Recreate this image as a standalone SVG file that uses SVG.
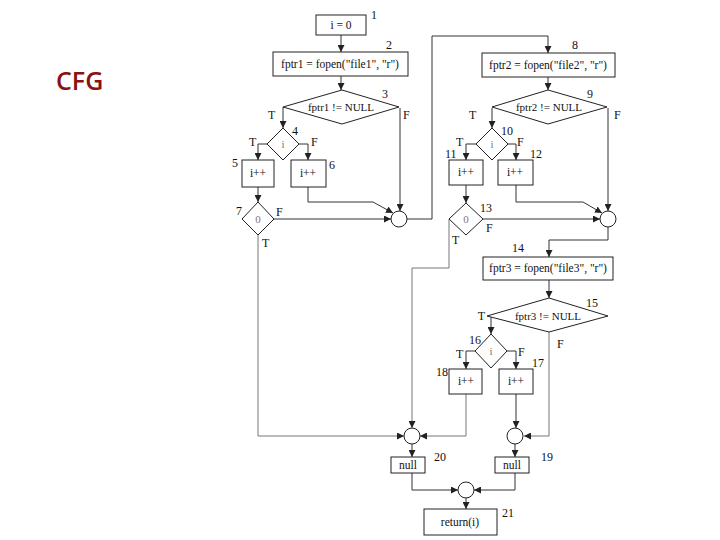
<svg xmlns="http://www.w3.org/2000/svg" width="720" height="540" viewBox="0 0 720 540">
<defs>
<marker id="ah" viewBox="0 0 8 8" refX="8" refY="4" markerWidth="7" markerHeight="7" orient="auto" markerUnits="userSpaceOnUse"><path d="M0,0 L8,4 L0,8 z" fill="#222"/></marker>
<style>
.n rect,.n polygon,.n circle{fill:#fff;stroke:#222;stroke-width:1}
.c path{fill:none;stroke:#333;stroke-width:1;marker-end:url(#ah)}
.c path.g{stroke:#777}
text{font-family:"Liberation Serif","Times New Roman",serif;fill:#111}
.t{font-size:11.5px;text-anchor:middle}
.d{font-size:11px;text-anchor:middle}
.v{font-size:11px;text-anchor:middle;fill:#777}
.l{font-size:12px}
.e{text-anchor:end}
.tf{font-size:12px}
.title{font-family:"Open Sans","Liberation Sans",sans-serif;font-size:25px;fill:#8b1010;font-weight:600}
</style>
</defs>
<rect width="720" height="540" fill="#fff"/>
<text class="title" x="56" y="90">CFG</text>
<g class="c">
<path d="M341,35 V52"/>
<path d="M341,76 V90"/>
<path d="M283,107 V128"/>
<path d="M267,144 H258 V160"/>
<path d="M299,144 H308 V160"/>
<path d="M258,187 V202"/>
<path d="M308,187 V202 H373 L393,213"/>
<path d="M400,108 V211"/>
<path d="M274,219 H391"/>
<path class="g" d="M258,235 V436 H404"/>
<path d="M407,219 H432 V36 H548 V53"/>
<path d="M548,77 V90"/>
<path d="M492,108 V128"/>
<path d="M476,144 H466 V160"/>
<path d="M508,144 H516 V160"/>
<path d="M466,185 V203"/>
<path d="M516,185 V202 H583 L602,213"/>
<path d="M608,108 V211"/>
<path d="M483,219 H600"/>
<path d="M608,227 V240 H549 V257"/>
<path d="M549,280 V298"/>
<path class="g" d="M449,219 V268 H412 V428"/>
<path d="M491,317 V334"/>
<path d="M475,351 H466 V369"/>
<path d="M507,351 H516 V369"/>
<path class="g" d="M466,394 V436 H420"/>
<path d="M516,394 V428"/>
<path class="g" d="M549,332 V436 H524"/>
<path d="M412,444 V457"/>
<path d="M515,444 V457"/>
<path d="M412,473 V490 H458"/>
<path d="M515,473 V490 H474"/>
<path d="M466,498 V509"/>
</g>
<g id="n1" class="n"><rect x="316" y="15" width="50" height="20"/><text class="t" x="341" y="29">i = 0</text><text class="l" x="371" y="19">1</text></g>
<g id="n2" class="n"><rect x="273" y="52" width="135" height="24"/><text class="t" x="340" y="68">fptr1 = fopen("file1", "r")</text><text class="l" x="386" y="49">2</text></g>
<g id="n3" class="n"><polygon points="342,90 399,107 342,124 283,107"/><text class="d" x="341" y="111">fptr1 != NULL</text><text class="l" x="382" y="98">3</text><text class="tf" x="268" y="119">T</text><text class="tf" x="403" y="119">F</text></g>
<g id="n4" class="n"><polygon points="283,128 299,144 283,160 267,144"/><text class="v" x="283" y="148">i</text><text class="l" x="292" y="135">4</text><text class="tf" x="249" y="146">T</text><text class="tf" x="311" y="146">F</text></g>
<g id="n5" class="n"><rect x="242" y="160" width="32" height="27"/><text class="t" x="258" y="177">i++</text><text class="l" x="232" y="167">5</text></g>
<g id="n6" class="n"><rect x="291" y="160" width="35" height="27"/><text class="t" x="308" y="177">i++</text><text class="l" x="329" y="169">6</text></g>
<g id="n7" class="n"><polygon points="258,202 274,219 258,235 242,219"/><text class="v" x="258" y="223">0</text><text class="l" x="236" y="215">7</text><text class="tf" x="276" y="216">F</text><text class="tf" x="262" y="247">T</text></g>
<g id="c1" class="n"><circle cx="399" cy="219" r="8"/></g>
<g id="n8" class="n"><rect x="482" y="53" width="133" height="24"/><text class="t" x="548" y="69">fptr2 = fopen("file2", "r")</text><text class="l" x="572" y="49">8</text></g>
<g id="n9" class="n"><polygon points="548,90 607,107 548,124 492,107"/><text class="d" x="549" y="111">fptr2 != NULL</text><text class="l" x="587" y="98">9</text><text class="tf" x="469" y="119">T</text><text class="tf" x="614" y="119">F</text></g>
<g id="n10" class="n"><polygon points="492,128 508,144 492,160 476,144"/><text class="v" x="492" y="148">i</text><text class="l" x="501" y="135">10</text><text class="tf" x="456" y="146">T</text><text class="tf" x="517" y="146">F</text></g>
<g id="n11" class="n"><rect x="449" y="160" width="34" height="25"/><text class="t" x="466" y="176">i++</text><text class="l" x="445" y="158">11</text></g>
<g id="n12" class="n"><rect x="498" y="160" width="35" height="25"/><text class="t" x="515" y="176">i++</text><text class="l" x="530" y="158">12</text></g>
<g id="n13" class="n"><polygon points="466,203 483,219 466,235 449,219"/><text class="v" x="466" y="223">0</text><text class="l" x="480" y="212">13</text><text class="tf" x="486" y="232">F</text><text class="tf" x="452" y="244">T</text></g>
<g id="c2" class="n"><circle cx="608" cy="219" r="8"/></g>
<g id="n14" class="n"><rect x="483" y="257" width="130" height="23"/><text class="t" x="548" y="272">fptr3 = fopen("file3", "r")</text><text class="l" x="512" y="252">14</text></g>
<g id="n15" class="n"><polygon points="549,298 608,316 549,332 487,316"/><text class="d" x="548" y="320">fptr3 != NULL</text><text class="l" x="586" y="307">15</text><text class="tf e" x="485" y="320">T</text><text class="tf" x="557" y="348">F</text></g>
<g id="n16" class="n"><polygon points="491,334 507,351 491,368 475,351"/><text class="v" x="491" y="355">i</text><text class="l" x="469" y="344">16</text><text class="tf" x="456" y="358">T</text><text class="tf" x="518" y="356">F</text></g>
<g id="n18" class="n"><rect x="449" y="369" width="33" height="25"/><text class="t" x="466" y="385">i++</text><text class="l e" x="448" y="376">18</text></g>
<g id="n17" class="n"><rect x="499" y="369" width="34" height="25"/><text class="t" x="516" y="385">i++</text><text class="l" x="532" y="367">17</text></g>
<g id="cA" class="n"><circle cx="412" cy="436" r="8"/></g>
<g id="cB" class="n"><circle cx="515" cy="436" r="8"/></g>
<g id="n20" class="n"><rect x="391" y="457" width="34" height="16"/><text class="t" x="408" y="469">null</text><text class="l" x="434" y="461">20</text></g>
<g id="n19" class="n"><rect x="495" y="457" width="34" height="16"/><text class="t" x="512" y="469">null</text><text class="l" x="541" y="461">19</text></g>
<g id="cC" class="n"><circle cx="466" cy="490" r="8"/></g>
<g id="n21" class="n"><rect x="424" y="509" width="73" height="26"/><text class="t" x="460" y="526">return(i)</text><text class="l" x="502" y="517">21</text></g>
</svg>
